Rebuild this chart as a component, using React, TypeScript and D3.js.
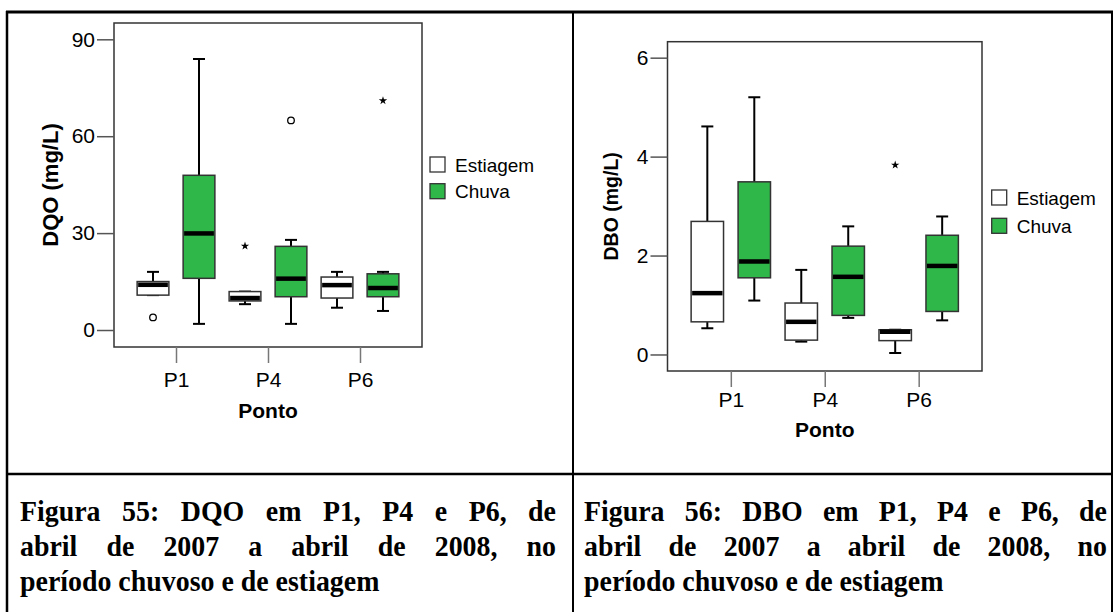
import React, { useEffect, useRef } from 'react';
import * as d3 from 'd3';

const pontos = ['P1', 'P4', 'P6'];
const periodos = ['Estiagem', 'Chuva'];
const periodoFill = ['#ffffff', '#2fb74a'];

// DQO (mg/L): rows = ponto, cols = [Estiagem, Chuva]
const dqoLow = [[10.8, 1.9], [8.0, 1.9], [6.9, 5.9]];
const dqoQ1 = [[10.8, 16.0], [9.0, 10.3], [9.9, 10.3]];
const dqoMedian = [[14.0, 29.9], [9.9, 15.9], [13.9, 13.0]];
const dqoQ3 = [[15.0, 47.9], [11.9, 25.9], [16.4, 17.4]];
const dqoHigh = [[18.0, 83.9], [11.9, 27.9], [18.0, 18.0]];
const dqoOutliers = [
  { ponto: 'P1', periodo: 'Estiagem', value: 3.9, kind: 'circle' },
  { ponto: 'P4', periodo: 'Estiagem', value: 26.0, kind: 'star' },
  { ponto: 'P4', periodo: 'Chuva', value: 64.9, kind: 'circle' },
  { ponto: 'P6', periodo: 'Chuva', value: 71.0, kind: 'star' },
];
const dqoTicks = [0, 30, 60, 90];

// DBO (mg/L)
const dboLow = [[0.53, 1.09], [0.26, 0.74], [0.03, 0.69]];
const dboQ1 = [[0.66, 1.55], [0.29, 0.79], [0.28, 0.87]];
const dboMedian = [[1.24, 1.88], [0.66, 1.57], [0.46, 1.79]];
const dboQ3 = [[2.69, 3.49], [1.04, 2.19], [0.50, 2.41]];
const dboHigh = [[4.61, 5.2], [1.71, 2.59], [0.50, 2.79]];
const dboOutliers = [
  { ponto: 'P6', periodo: 'Estiagem', value: 3.83, kind: 'star' },
];
const dboTicks = [0, 2, 4, 6];

const captionLeft = [
  'Figura 55: DQO em  P1, P4 e P6, de',
  'abril de 2007 a abril de 2008, no',
  'período chuvoso e de estiagem',
];
const captionRight = [
  'Figura 56: DBO em P1, P4 e P6, de',
  'abril de 2007 a abril de 2008, no',
  'período chuvoso e de estiagem',
];

const SANS = 'Liberation Sans, Arial, Helvetica, sans-serif';
const SERIF = 'Liberation Serif, Times New Roman, serif';

interface Outlier { ponto: string; periodo: string; value: number; kind: string; }

interface ChartCfg {
  x0: number; x1: number; y0: number; y1: number;
  domain: [number, number];
  ticks: number[];
  yTitle: string;
  titleX: number;
  titleSize: number;
  xLabelPad: number;
  xTitleBase: number;
  legendX: number;
  legendY: number;
  legendStep: number;
  low: number[][]; q1: number[][]; med: number[][]; q3: number[][]; high: number[][];
  outliers: Outlier[];
}

function drawBoxChart(svg: d3.Selection<SVGSVGElement, unknown, null, undefined>, cfg: ChartCfg) {
  const g = svg.append('g').attr('font-family', SANS);

  const x = d3.scalePoint<string>().domain(pontos).range([cfg.x0, cfg.x1]).padding(0.674);
  const y = d3.scaleLinear().domain(cfg.domain).range([cfg.y1, cfg.y0]);
  const step = x.step();
  const off = d3.scalePoint<string>().domain(periodos).range([-step * 0.25, step * 0.25]);
  const bw = step * 0.345;
  const cap = 12;

  // frame
  g.append('rect')
    .attr('x', cfg.x0).attr('y', cfg.y0)
    .attr('width', cfg.x1 - cfg.x0).attr('height', cfg.y1 - cfg.y0)
    .attr('fill', 'none').attr('stroke', '#333').attr('stroke-width', 1.5);

  // y axis
  const yAxis = g.append('g')
    .attr('transform', `translate(${cfg.x0},0)`)
    .call(d3.axisLeft(y).tickValues(cfg.ticks).tickSize(17).tickPadding(2).tickFormat(d3.format('d')));
  yAxis.select('.domain').remove();
  yAxis.selectAll('line').attr('stroke', '#555').attr('stroke-width', 1.5);
  yAxis.selectAll('text').attr('font-size', 21).attr('fill', '#000').attr('font-family', SANS);

  // x axis
  const xAxis = g.append('g')
    .attr('transform', `translate(0,${cfg.y1})`)
    .call(d3.axisBottom(x).tickSize(16).tickPadding(cfg.xLabelPad));
  xAxis.select('.domain').remove();
  xAxis.selectAll('line').attr('stroke', '#777').attr('stroke-width', 1.5);
  xAxis.selectAll('text').attr('font-size', 21).attr('fill', '#000').attr('font-family', SANS);

  // titles
  g.append('text')
    .attr('transform', `translate(${cfg.titleX},${(cfg.y0 + cfg.y1) / 2}) rotate(-90)`)
    .attr('text-anchor', 'middle').attr('dominant-baseline', 'central')
    .attr('font-weight', 'bold').attr('font-size', cfg.titleSize)
    .text(cfg.yTitle);
  g.append('text')
    .attr('x', (cfg.x0 + cfg.x1) / 2).attr('y', cfg.xTitleBase)
    .attr('text-anchor', 'middle').attr('font-weight', 'bold').attr('font-size', 21)
    .text('Ponto');

  // boxes
  const boxes: { ponto: string; periodo: string; pi: number; si: number }[] = [];
  pontos.forEach((p, pi) => periodos.forEach((s, si) => boxes.push({ ponto: p, periodo: s, pi, si })));

  const bg = g.selectAll('.box').data(boxes).enter().append('g').attr('class', 'box');
  const cx = (d: any) => (x(d.ponto) as number) + (off(d.periodo) as number);

  bg.append('line')
    .attr('x1', cx).attr('x2', cx)
    .attr('y1', d => y(cfg.high[d.pi][d.si])).attr('y2', d => y(cfg.q3[d.pi][d.si]))
    .attr('stroke', '#000').attr('stroke-width', 2);
  bg.append('line')
    .attr('x1', cx).attr('x2', cx)
    .attr('y1', d => y(cfg.q1[d.pi][d.si])).attr('y2', d => y(cfg.low[d.pi][d.si]))
    .attr('stroke', '#000').attr('stroke-width', 2);
  bg.append('line')
    .attr('x1', d => cx(d) - cap / 2).attr('x2', d => cx(d) + cap / 2)
    .attr('y1', d => y(cfg.high[d.pi][d.si])).attr('y2', d => y(cfg.high[d.pi][d.si]))
    .attr('stroke', '#000').attr('stroke-width', 2);
  bg.append('line')
    .attr('x1', d => cx(d) - cap / 2).attr('x2', d => cx(d) + cap / 2)
    .attr('y1', d => y(cfg.low[d.pi][d.si])).attr('y2', d => y(cfg.low[d.pi][d.si]))
    .attr('stroke', '#000').attr('stroke-width', 2);
  bg.append('rect')
    .attr('x', d => cx(d) - bw / 2)
    .attr('y', d => y(cfg.q3[d.pi][d.si]))
    .attr('width', bw)
    .attr('height', d => y(cfg.q1[d.pi][d.si]) - y(cfg.q3[d.pi][d.si]))
    .attr('fill', d => periodoFill[d.si])
    .attr('stroke', '#333').attr('stroke-width', 1.5);
  bg.append('line')
    .attr('x1', d => cx(d) - bw / 2 + 1).attr('x2', d => cx(d) + bw / 2 - 1)
    .attr('y1', d => y(cfg.med[d.pi][d.si])).attr('y2', d => y(cfg.med[d.pi][d.si]))
    .attr('stroke', '#000').attr('stroke-width', 4.5);

  // outliers
  const star = d3.symbol().type(d3.symbolStar).size(22);
  cfg.outliers.forEach(o => {
    const ox = (x(o.ponto) as number) + (off(o.periodo) as number);
    const oy = y(o.value);
    if (o.kind === 'circle') {
      g.append('circle').attr('cx', ox).attr('cy', oy).attr('r', 3.3)
        .attr('fill', '#fff').attr('stroke', '#000').attr('stroke-width', 1.3);
    } else {
      g.append('path').attr('d', star()).attr('transform', `translate(${ox},${oy})`).attr('fill', '#000');
    }
  });

  // legend
  const lg = g.selectAll('.leg').data(periodos).enter().append('g')
    .attr('transform', (d, i) => `translate(${cfg.legendX},${cfg.legendY + i * cfg.legendStep})`);
  lg.append('rect').attr('width', 15).attr('height', 15)
    .attr('fill', (d, i) => periodoFill[i]).attr('stroke', '#333').attr('stroke-width', 1.3);
  lg.append('text').attr('x', 25).attr('y', 14.5).attr('font-size', 19).text(d => d);
}

function drawCaption(svg: d3.Selection<SVGSVGElement, unknown, null, undefined>, lines: string[], xl: number, xr: number) {
  const sx = 0.93;
  const g = svg.append('g')
    .attr('font-family', SERIF).attr('font-weight', 'bold').attr('font-size', 30).attr('fill', '#000');
  const baselines = [521, 556, 591];
  lines.forEach((line, li) => {
    const yb = baselines[li];
    if (li === lines.length - 1) {
      g.append('text').attr('transform', `translate(${xl},${yb}) scale(${sx},1)`).text(line);
      return;
    }
    const words = line.split(/\s+/);
    const nodes = words.map(w => g.append('text').text(w));
    const widths = nodes.map(n => (n.node() as SVGTextElement).getComputedTextLength() * sx);
    const gap = (xr - xl - d3.sum(widths)) / (words.length - 1);
    let cur = xl;
    nodes.forEach((n, i) => {
      n.attr('transform', `translate(${cur},${yb}) scale(${sx},1)`);
      cur += widths[i] + gap;
    });
  });
}

const App: React.FC = () => {
  const svgRef = useRef<SVGSVGElement | null>(null);

  useEffect(() => {
    const svg = d3.select(svgRef.current as SVGSVGElement);
    svg.selectAll('*').remove();

    // table borders
    const border = svg.append('g').attr('stroke', '#000');
    border.append('line').attr('x1', 6).attr('x2', 1113).attr('y1', 12).attr('y2', 12).attr('stroke-width', 3);
    border.append('line').attr('x1', 7).attr('x2', 7).attr('y1', 11).attr('y2', 612).attr('stroke-width', 2.5);
    border.append('line').attr('x1', 1112).attr('x2', 1112).attr('y1', 11).attr('y2', 612).attr('stroke-width', 2);
    border.append('line').attr('x1', 573).attr('x2', 573).attr('y1', 11).attr('y2', 612).attr('stroke-width', 2);
    border.append('line').attr('x1', 6).attr('x2', 1113).attr('y1', 474).attr('y2', 474).attr('stroke-width', 2.5);

    drawBoxChart(svg, {
      x0: 114, x1: 422, y0: 23, y1: 347,
      domain: [-5.26, 95.05],
      ticks: dqoTicks,
      yTitle: 'DQO (mg/L)',
      titleX: 50.5, titleSize: 22,
      xLabelPad: 9, xTitleBase: 418,
      legendX: 430, legendY: 157, legendStep: 26.7,
      low: dqoLow, q1: dqoQ1, med: dqoMedian, q3: dqoQ3, high: dqoHigh,
      outliers: dqoOutliers,
    });

    drawBoxChart(svg, {
      x0: 667.5, x1: 982, y0: 41.7, y1: 371,
      domain: [-0.334, 6.323],
      ticks: dboTicks,
      yTitle: 'DBO (mg/L)',
      titleX: 610.5, titleSize: 19.5,
      xLabelPad: 5, xTitleBase: 436.5,
      legendX: 991.7, legendY: 190, legendStep: 28.3,
      low: dboLow, q1: dboQ1, med: dboMedian, q3: dboQ3, high: dboHigh,
      outliers: dboOutliers,
    });

    drawCaption(svg, captionLeft, 20, 556);
    drawCaption(svg, captionRight, 584, 1107);
  }, []);

  return (
    <div style={{ position: 'absolute', left: 0, top: 0 }}>
      <svg ref={svgRef} width={1117} height={612} style={{ display: 'block', background: '#fff' }} />
    </div>
  );
};

export default App;
